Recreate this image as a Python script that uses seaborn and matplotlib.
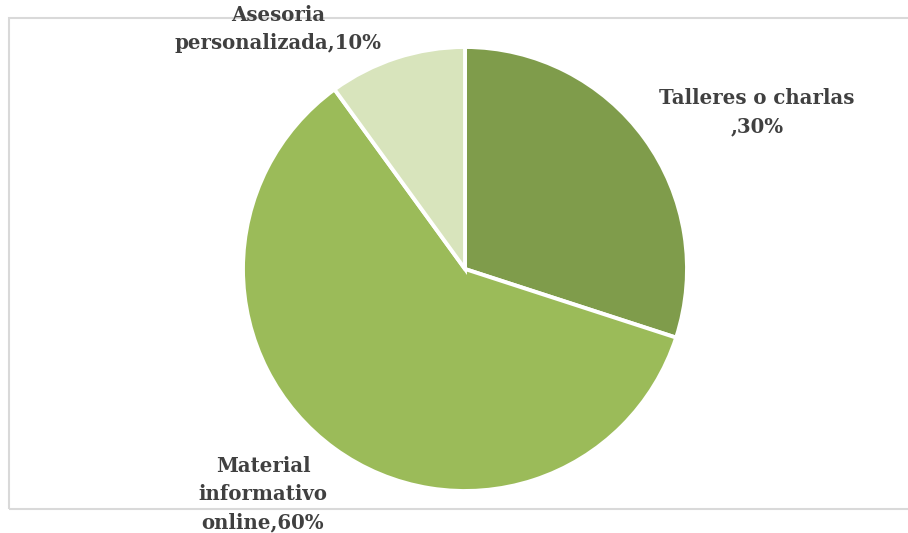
import matplotlib
matplotlib.use("Agg")
import matplotlib.pyplot as plt
import seaborn as sns
from matplotlib.patches import Rectangle

# data
categories = ["Talleres o charlas", "Material informativo online", "Asesoria personalizada"]
values = [30, 60, 10]
label_texts = ["Talleres o charlas\n,30%", "Material\ninformativo\nonline,60%", "Asesoria\npersonalizada,10%"]
colors = ["#7F9C4B", "#9BBB59", "#D8E4BC"]

sns.set_theme(style="white")
plt.rcParams["font.family"] = ["DejaVu Serif"]

W, H, DPI = 908, 533, 100
fig = plt.figure(figsize=(W / DPI, H / DPI), dpi=DPI)
fig.patch.set_facecolor("white")

ax = fig.add_axes([0, 0, 1, 1])
ax.patch.set_alpha(0)

# chart border (runs past the right edge in the reference)
ax.add_patch(Rectangle((9 / W, 1 - 509 / H), 1.2, (509 - 18) / H,
                       transform=fig.transFigure, fill=False, clip_on=False,
                       edgecolor="#D9D9D9", linewidth=1.5, zorder=0))

cx, cy, r = 465, 269, 222  # pixel centre and radius of the pie


def to_data(px, py):
    return (px - cx) / r, (cy - py) / r


ax.pie(values, colors=colors, startangle=90, counterclock=False, radius=1,
       wedgeprops=dict(edgecolor="white", linewidth=2.8))
ax.set_aspect("auto")
ax.set_xlim(-cx / r, (W - cx) / r)
ax.set_ylim(-(H - cy) / r, cy / r)
ax.axis("off")

label_pos = [(757, 112), (263, 494), (278, 29)]
for txt, (px, py) in zip(label_texts, label_pos):
    x, y = to_data(px, py)
    ax.text(x, y, txt, ha="center", va="center", fontsize=14.2,
            fontweight="bold", color="#404040", linespacing=1.5, zorder=5)

fig.savefig("out.png", dpi=DPI)
